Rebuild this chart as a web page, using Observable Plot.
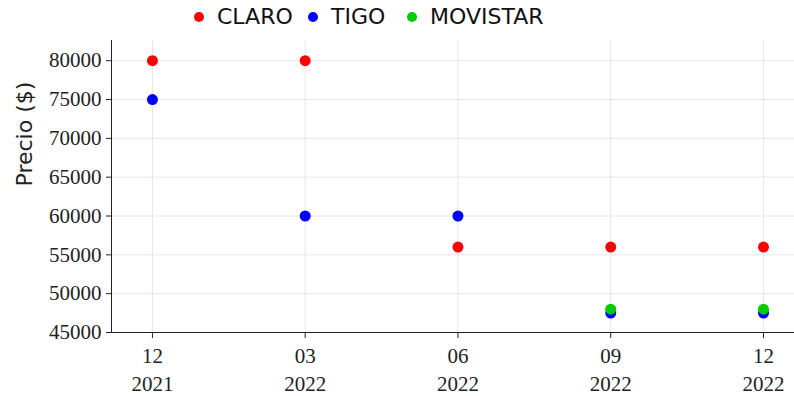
<!DOCTYPE html>
<html>
<head>
<meta charset="utf-8">
<script src="https://cdn.jsdelivr.net/npm/d3@7"></script>
<script src="https://cdn.jsdelivr.net/npm/@observablehq/plot@0.6"></script>
<style>
  body { margin: 0; background: #fff; }
  #legend { position: relative; height: 36px; font-family: "DejaVu Sans", sans-serif; font-size: 22px; color: #111; }
  .item { position: absolute; top: 4px; display: flex; align-items: center; line-height: 26px; }
  .dot { width: 10px; height: 10px; border-radius: 50%; margin-right: 13px; }
  #chart svg text { font-family: "Liberation Serif", "Times New Roman", serif; }
  #chart svg .ylab text { font-family: "DejaVu Sans", sans-serif; }
</style>
</head>
<body>
<div id="legend"></div>
<div id="chart"></div>
<script>
const periods = ["12/2021", "03/2022", "06/2022", "09/2022", "12/2022"];
const seriesNames = ["CLARO", "TIGO", "MOVISTAR"];
const seriesColors = ["#ff0000", "#0000ff", "#00cc00"];
const claro = [80000, 80000, 56000, 56000, 56000];
const tigo = [75000, 60000, 60000, 47500, 47500];
const movistar = [null, null, null, 48000, 48000];
const yTicks = [45000, 50000, 55000, 60000, 65000, 70000, 75000, 80000];

const seriesValues = [claro, tigo, movistar];
const data = [];
seriesNames.forEach((name, s) => {
  seriesValues[s].forEach((v, i) => {
    if (v != null) data.push({i, value: v, series: name});
  });
});

// legend
const legendPos = [194, 308, 407];
const legend = document.getElementById("legend");
seriesNames.forEach((name, k) => {
  const it = document.createElement("div");
  it.className = "item";
  it.style.left = legendPos[k] + "px";
  it.innerHTML = `<span class="dot" style="background:${seriesColors[k]}"></span><span>${name}</span>`;
  legend.appendChild(it);
});

const serif = "'Liberation Serif', 'Times New Roman', serif";
const chart = Plot.plot({
  width: 794,
  height: 360,
  marginTop: 4,
  marginLeft: 111,
  marginRight: 0,
  marginBottom: 64,
  style: {fontFamily: serif, fontSize: "21px", color: "#222", background: "#fff"},
  x: {type: "linear", domain: [-0.268, 4.203]},
  y: {domain: [45000, 82600]},
  color: {domain: seriesNames, range: seriesColors},
  marks: [
    Plot.gridY(yTicks, {stroke: "#e6e6e6", strokeOpacity: 1}),
    Plot.gridX(d3.range(periods.length), {stroke: "#e6e6e6", strokeOpacity: 1}),
    Plot.axisY(yTicks, {tickSize: 5, tickPadding: 5, tickFormat: d => String(d), label: null, fontSize: 21}),
    Plot.axisX(d3.range(periods.length), {tickSize: 6, tickPadding: 10, tickFormat: i => periods[i].split("/")[0], label: null, fontSize: 21}),
    Plot.axisX(d3.range(periods.length), {tickSize: 0, tickPadding: 44, tickFormat: i => periods[i].split("/")[1], label: null, fontSize: 21}),
    Plot.ruleX([-0.268], {stroke: "#222"}),
    Plot.ruleY([45000], {stroke: "#222"}),
    Plot.dot(data, {x: "i", y: "value", fill: "series", r: 5.5, stroke: null}),
    Plot.text(["Precio ($)"], {className: "ylab", frameAnchor: "left", rotate: -90, dx: -87, fontSize: 22, fill: "#222"})
  ]
});
document.getElementById("chart").appendChild(chart);
</script>
</body>
</html>
